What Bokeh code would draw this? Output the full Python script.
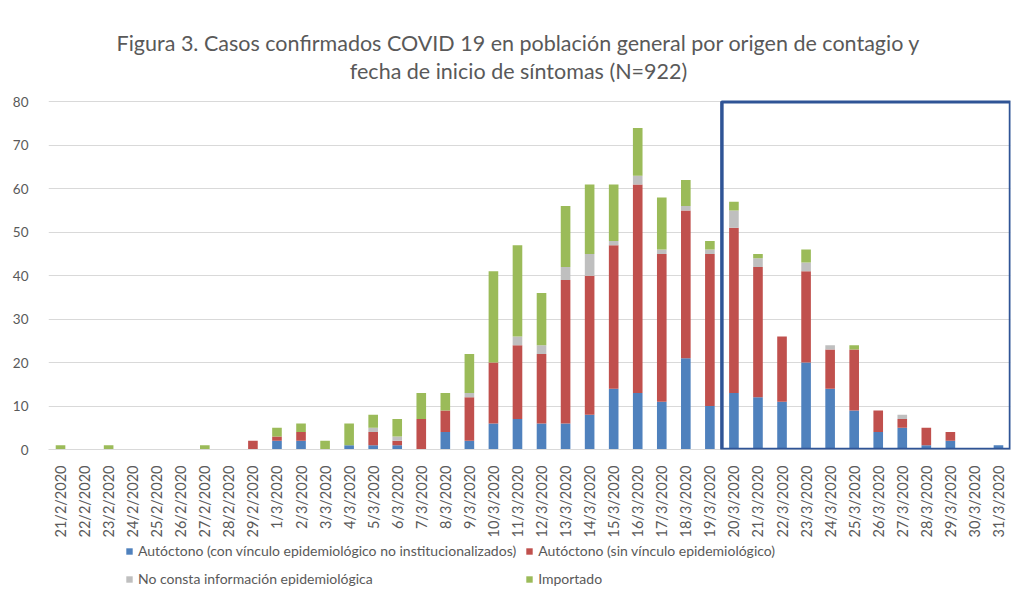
import math
from bokeh.plotting import figure
from bokeh.layouts import column
from bokeh.core.properties import value
from bokeh.models import (ColumnDataSource, Legend, LegendItem, BoxAnnotation,
                          Range1d, FactorRange, SingleIntervalTicker)
from bokeh.embed import file_html
from bokeh.resources import INLINE

dates = ["21/2/2020", "22/2/2020", "23/2/2020", "24/2/2020", "25/2/2020",
         "26/2/2020", "27/2/2020", "28/2/2020", "29/2/2020",
         "1/3/2020", "2/3/2020", "3/3/2020", "4/3/2020", "5/3/2020",
         "6/3/2020", "7/3/2020", "8/3/2020", "9/3/2020", "10/3/2020",
         "11/3/2020", "12/3/2020", "13/3/2020", "14/3/2020", "15/3/2020",
         "16/3/2020", "17/3/2020", "18/3/2020", "19/3/2020", "20/3/2020",
         "21/3/2020", "22/3/2020", "23/3/2020", "24/3/2020", "25/3/2020",
         "26/3/2020", "27/3/2020", "28/3/2020", "29/3/2020", "30/3/2020",
         "31/3/2020"]

autoctono_con = [0, 0, 0, 0, 0, 0, 0, 0, 0,
                 2, 2, 0, 1, 1, 1, 0, 4, 2, 6, 7, 6, 6, 8, 14, 13, 11, 21, 10,
                 13, 12, 11, 20, 14, 9, 4, 5, 1, 2, 0, 1]
autoctono_sin = [0, 0, 0, 0, 0, 0, 0, 0, 2,
                 1, 2, 0, 0, 3, 1, 7, 5, 10, 14, 17, 16, 33, 32, 33, 48, 34, 34, 35,
                 38, 30, 15, 21, 9, 14, 5, 2, 4, 2, 0, 0]
no_consta = [0, 0, 0, 0, 0, 0, 0, 0, 0,
             0, 0, 0, 0, 1, 1, 0, 0, 1, 0, 2, 2, 3, 5, 1, 2, 1, 1, 1,
             4, 2, 0, 2, 1, 0, 0, 1, 0, 0, 0, 0]
importado = [1, 0, 1, 0, 0, 0, 1, 0, 0,
             2, 2, 2, 5, 3, 4, 6, 4, 9, 21, 21, 12, 14, 16, 13, 11, 12, 6, 2,
             2, 1, 0, 3, 0, 1, 0, 0, 0, 0, 0, 0]

series_names = ["Autóctono (con vínculo epidemiológico no institucionalizados)",
                "Autóctono (sin vínculo epidemiológico)",
                "No consta información epidemiológica",
                "Importado"]
colors = ["#4F81BD", "#C0504D", "#BFBFBF", "#9BBB59"]

title_lines = ["Figura 3. Casos confirmados COVID 19 en población general por origen de contagio y",
               "fecha de inicio de síntomas (N=922)"]
highlight_from = "20/3/2020"

FONT = "Lato"
TXT = "#595959"
W = 1012


def blank(height):
    f = figure(width=W, height=height, output_backend="svg", toolbar_location=None,
               x_axis_location=None, y_axis_location=None,
               min_border_left=0, min_border_right=0, min_border_top=0,
               min_border_bottom=0)
    f.outline_line_color = None
    f.grid.grid_line_color = None
    return f


# ---- title panel (data units = page pixels; frame aligned to chart frame 48..1010)
hd = blank(92)
hd.x_range = Range1d(48, 1010)
hd.y_range = Range1d(92, 0)
hd.text(x=[518, 518], y=[42, 70], text=title_lines, text_align="center",
        text_baseline="middle", text_font=value(FONT),
        text_font_size=value("21.5px"), text_color=TXT)

# ---- chart
src = ColumnDataSource(dict(dates=dates, a=autoctono_con, b=autoctono_sin,
                            c=no_consta, d=importado))

p = figure(x_range=FactorRange(*dates), y_range=Range1d(0, 80.3),
           width=W, height=448, output_backend="svg", toolbar_location=None,
           min_border_left=48, min_border_right=2, min_border_top=8,
           min_border_bottom=89, title=None)

rs = p.vbar_stack(["a", "b", "c", "d"], x="dates", width=0.4, color=colors,
                  line_color=None, source=src)

left = dates.index(highlight_from)
p.add_layout(BoxAnnotation(left=left, right=len(dates), bottom=0, top=80,
                           fill_color=None, fill_alpha=0, line_color="#2F5496",
                           line_alpha=1, line_width=3.5))

p.outline_line_color = None
p.xgrid.grid_line_color = None
p.ygrid.grid_line_color = "#D9D9D9"
p.ygrid.ticker = SingleIntervalTicker(interval=10)

p.yaxis.ticker = SingleIntervalTicker(interval=10)
p.yaxis.axis_line_color = None
p.yaxis.major_tick_line_color = None
p.yaxis.minor_tick_line_color = None
p.yaxis.major_label_standoff = 14
p.yaxis.major_label_text_font = FONT
p.yaxis.major_label_text_font_size = "13.5px"
p.yaxis.major_label_text_color = TXT

p.xaxis.axis_line_color = "#D9D9D9"
p.xaxis.major_tick_line_color = None
p.xaxis.minor_tick_line_color = None
p.xaxis.major_label_orientation = math.pi / 2
p.xaxis.major_label_standoff = 10
p.xaxis.major_label_text_font = FONT
p.xaxis.major_label_text_font_size = "14.5px"
p.xaxis.major_label_text_color = TXT
p.x_range.range_padding = 0

# ---- legend panel below the chart
lg = blank(60)
lg.x_range = Range1d(0, 1)
lg.y_range = Range1d(0, 1)
swatch = ColumnDataSource(dict(x=[0.5], a=[0], b=[0], c=[0], d=[0]))
lrs = lg.vbar_stack(["a", "b", "c", "d"], x="x", width=0.4, color=colors,
                    line_color=None, source=swatch)
legend = Legend(items=[LegendItem(label=n, renderers=[r]) for n, r in zip(series_names, lrs)],
                orientation="horizontal", ncols=2, location=(77, 12),
                border_line_color=None, background_fill_alpha=0,
                label_text_font=FONT, label_text_font_size="14px",
                label_text_color=TXT, glyph_width=8, glyph_height=8,
                label_standoff=5, spacing=9, padding=0, margin=0,
                label_height=19)
lg.add_layout(legend, "center")

layout = column(hd, p, lg, spacing=0)
open("out.html", "w").write(file_html(layout, INLINE))
